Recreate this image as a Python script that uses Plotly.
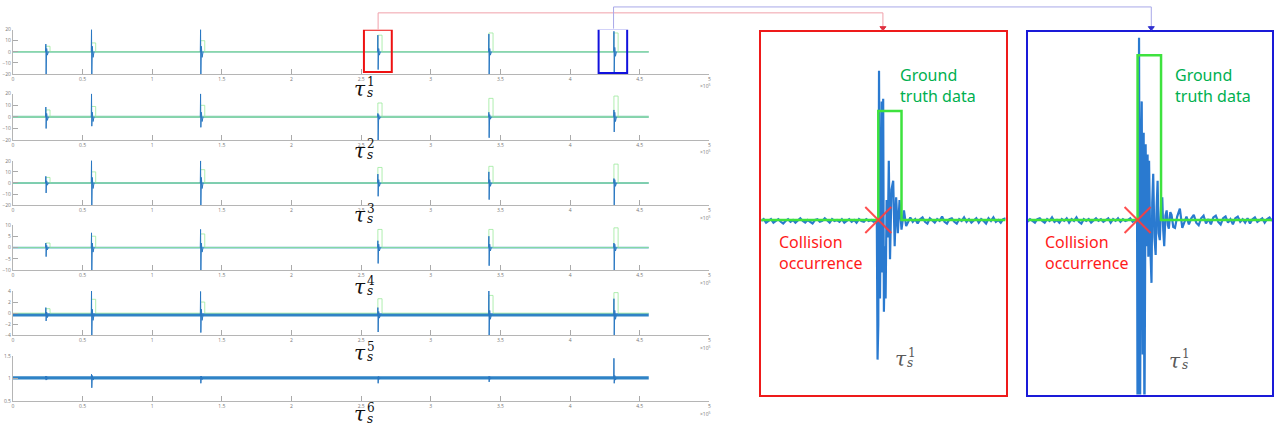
import plotly.graph_objects as go

W, H = 1276, 434

# ---------------- overview panels (x in units of 10^5 samples) ----------------
collision_t = [0.236, 0.564, 1.347, 2.620, 3.417, 4.315]
signal_end = 4.565
x_ticks = [0, 0.5, 1, 1.5, 2, 2.5, 3, 3.5, 4, 4.5, 5]
x_tick_text = ["0", "0.5", "1", "1.5", "2", "2.5", "3", "3.5", "4", "4.5", "5"]

y_ranges = [(-20, 20), (-20, 20), (-20, 20), (-10, 10), (-4, 4), (0.5, 1.5)]
y_ticks = [[-20, -10, 0, 10, 20], [-20, -10, 0, 10, 20], [-20, -10, 0, 10, 20],
           [-10, -5, 0, 5, 10], [-4, -2, 0, 2, 4], [0.5, 1, 1.5]]
baseline = [0, 0, 0, 0, -0.3, 1.02]

spike_peak = [
    [7, 21, 21, 15, 16, 18.5],
    [8.5, 20, 20, 3, 4, 6],
    [6, 21, 20, 8, 10, 4],
    [2, 6.5, 8, 3, 5, 2],
    [1, 4.2, 3.9, 1, 4.2, 2.6],
    [1.06, 1.1, 1.05, 1.04, 1.05, 1.45],
]
spike_trough = [
    [-21, -21, -21, -16, -21, -21],
    [-10, -8, -9, -21, -18, -13],
    [-9, -21, -21, -12, -15, -21],
    [-4, -11, -11, -7, -8, -11],
    [-1.4, -4.2, -3.5, -3.4, -4.2, -4.2],
    [0.97, 0.8, 0.9, 0.9, 0.93, 0.9],
]
spike_tail = [
    [3, 5, 5, 3, 3, 4],
    [3, 4, 4, 2, 2, 4],
    [2, 5, 5, 3, 3, 3],
    [1, 2, 2, 1.5, 1.5, 1.5],
    [0.5, 1, 1, 0.6, 0.8, 0.8],
    [0.03, 0.05, 0.04, 0.03, 0.03, 0.05],
]
gt_top = [
    [5, 8, 10, 15, 17, 17],
    [6, 9, 10, 12, 16, 18],
    [5, 10, 12, 14, 15, 17],
    [2, 5, 6, 8, 8, 8.7],
    [0.8, 2.5, 2, 2.6, 3.2, 3.7],
    None,
]
gt_width = 0.03

# red / blue highlighted windows on panel 1 (data units)
red_win = (2.52, 2.72, -18.2, 20.0)
blue_win = (4.205, 4.41, -19.1, 20.9)

# ---------------- zoomed views (x: samples 0..100, y: signal) ----------------
zoom_yrange = (-20, 21.6)

red_pre = [-0.1, 0.1, -0.3, -0.1, 0.1, -0.3, -0.1, 0.1, -0.2, -0.4, -0.1, 0.1, -0.2, 0.0, -0.3, -0.1,
           0.2, -0.1, -0.3, 0.0, -0.2, -0.4, 0.0, 0.1, -0.2, -0.1, 0.2, -0.1, -0.3, 0.1, -0.1, 0.0,
           -0.2, 0.1, -0.3, -0.1, 0.1, -0.2, 0.0, -0.3, 0.1, -0.1, -0.2, 0.1, -0.1, 0.0, -0.2]
red_spike_x = [47.3, 47.6, 47.9, 48.2, 48.6, 49.0, 49.3, 49.6, 49.9, 50.2, 50.6, 50.9, 51.3, 51.8, 52.2,
               52.7, 53.3, 54.0, 54.6, 55.2, 55.9, 56.6, 57.4, 58.4, 59.3]
red_spike_y = [0.0, -16.0, -12.0, 17.1, -9.0, 5.0, 13.6, -6.0, 13.9, -10.5, -3.0, -9.0, 2.3, -2.0, 6.8,
               -4.5, 3.5, 4.5, -3.0, 2.6, -1.5, 2.3, -1.1, 1.1, -0.7]
red_post = [0.3, -0.2, 0.1, -0.4, 0.1, 0.3, -0.2, -0.4, 0.2, 0.0, -0.3, 0.1, -0.1, 0.4, -0.2, -0.4,
            0.1, 0.2, -0.2, -0.4, 0.1, -0.1, 0.3, -0.2, 0.1, -0.3, 0.0, 0.2, -0.3, 0.1, -0.1, -0.4,
            0.2, -0.1, 0.3, -0.2, 0.0, -0.3, 0.1, 0.2]
red_gt = (47.9, 57.4, 12.5)

blue_pre = [-0.2, 0.1, -0.1, -0.3, 0.1, 0.2, -0.1, -0.3, 0.1, -0.1, 0.3, -0.2, 0.0, -0.3, 0.1, -0.1,
            0.2, -0.3, 0.1, -0.1, 0.3, -0.2, -0.4, 0.1, -0.1, 0.1, -0.3, 0.0, 0.2, -0.1, 0.1, -0.2,
            0.0, 0.2, -0.3, 0.1, -0.1, 0.2, -0.2, 0.1, -0.1, 0.0, 0.2, -0.2, 0.0]
blue_spike_x = [44.8, 45.0, 45.3, 45.6, 46.0, 46.4, 46.7, 47.1, 47.5, 47.8, 48.3, 48.7, 49.1, 49.4, 49.7,
                50.2, 50.7, 51.0, 51.4, 51.9, 52.4, 52.8, 53.2, 53.6, 54.1, 54.6, 55.1, 55.5, 55.9,
                56.4, 56.9, 57.4, 57.8, 58.4, 58.9, 59.6, 60.3, 61.2, 62.3, 63.3]
blue_spike_y = [0.0, -25, -10, 20.9, -25, 8.0, 13.6, -15.4, 10.0, -25, 8.7, -3.0, 7.5, -4.2, 6.8,
                -3.0, -7.2, 2.0, 5.3, -2.0, -4.0, 1.5, 4.5, -1.5, -2.3, 1.5, 2.6, -1.2, -3.0,
                0.5, 1.1, -0.6, -1.0, 0.9, 0.6, -0.8, -0.9, 0.4, 1.3, -0.9]
blue_post = [0.4, -0.5, 0.2, 0.6, -0.3, -0.6, 0.2, 0.5, -0.4, 0.1, -0.5, 0.3, 0.5, -0.2, -0.5, 0.2,
             0.4, -0.3, 0.1, -0.5, 0.2, 0.4, -0.2, 0.1, -0.3, 0.2, -0.4, 0.1, 0.3, -0.2, 0.0, 0.2,
             -0.3, 0.1, 0.3, -0.1]
blue_gt = (45.0, 54.6, 18.9)


# ---------------- layout helpers (screen pixel -> paper) ----------------
def px(x):
    return x / W


def py(y):
    return 1 - y / H


panel_top = [27, 92, 160, 225, 292, 358]
panel_bot = [72, 139, 205, 271, 337, 404]
LEFT_X0, LEFT_X1 = 12, 710

fig = go.Figure()
layout = dict(width=W, height=H, margin=dict(l=0, r=0, t=0, b=0), autosize=False,
              paper_bgcolor="white", plot_bgcolor="rgba(0,0,0,0)", showlegend=False)

band_color = ["#7cc6bf", "#7fc8bb", "#72bfc0", "#5fb1c9", "#2f83c6", "#2f83c6"]
band_width = [1.8, 2.2, 1.8, 1.8, 3.2, 3.2]

for i in range(6):
    sfx = "" if i == 0 else str(i + 1)
    xa, ya = "x" + sfx, "y" + sfx
    b = baseline[i]
    fig.add_trace(go.Scatter(x=[0, signal_end], y=[b, b], mode="lines", xaxis=xa, yaxis=ya,
                             line=dict(color=band_color[i], width=band_width[i]), hoverinfo="skip"))
    if gt_top[i] is not None:
        gx, gy = [0], [0]
        for t, h in zip(collision_t, gt_top[i]):
            gx += [t, t, t + gt_width, t + gt_width]
            gy += [0, h, h, 0]
        gx.append(signal_end)
        gy.append(0)
        fig.add_trace(go.Scatter(x=gx, y=gy, mode="lines", xaxis=xa, yaxis=ya,
                                 line=dict(color="rgba(150,232,150,0.75)", width=1), hoverinfo="skip"))
    sx, sy = [], []
    for t, pk, tr, tl in zip(collision_t, spike_peak[i], spike_trough[i], spike_tail[i]):
        sx += [t - 0.002, t, t + 0.002, t + 0.006, t + 0.011, t + 0.018, None]
        sy += [b, pk, tr, b + tl, b - tl, b, None]
    fig.add_trace(go.Scatter(x=sx, y=sy, mode="lines", xaxis=xa, yaxis=ya,
                             line=dict(color="#2a78c2", width=1), hoverinfo="skip"))

    layout["xaxis" + sfx] = dict(domain=[px(LEFT_X0), px(LEFT_X1)], anchor=ya, range=[0, 5],
                                 tickvals=x_ticks, ticktext=x_tick_text, ticks="inside", ticklen=5,
                                 tickcolor="#aaaaaa", showline=True, linecolor="#b5b5b5", linewidth=1,
                                 showgrid=False, zeroline=False, tickfont=dict(size=5, color="#777777"))
    layout["yaxis" + sfx] = dict(domain=[py(panel_bot[i]), py(panel_top[i])], anchor=xa,
                                 range=list(y_ranges[i]), tickvals=y_ticks[i], ticks="inside", ticklen=5,
                                 tickcolor="#aaaaaa", showline=True, linecolor="#b5b5b5", linewidth=1,
                                 showgrid=False, zeroline=False, tickfont=dict(size=5, color="#777777"))

annotations = []
shapes = []

for i in range(6):
    annotations.append(dict(text="×10<sup>5</sup>", x=px(706), y=py(panel_bot[i] + 12), xref="paper",
                            yref="paper", showarrow=False, font=dict(size=5, color="#777777"),
                            xanchor="center", yanchor="middle"))

for (x0, x1, y0, y1), col in [(red_win, "#ee1111"), (blue_win, "#1111dd")]:
    shapes.append(dict(type="rect", xref="x", yref="y", x0=x0, x1=x1, y0=y0, y1=y1,
                       line=dict(color=col, width=2)))


def path(points):
    s = "M {} {}".format(px(points[0][0]), py(points[0][1]))
    for a, b in points[1:]:
        s += " L {} {}".format(px(a), py(b))
    return s


shapes.append(dict(type="path", xref="paper", yref="paper",
                   path=path([(378, 27), (378, 10), (884, 10), (884, 25)]),
                   line=dict(color="#f0a0aa", width=1)))
shapes.append(dict(type="path", xref="paper", yref="paper",
                   path=path([(881, 24), (887, 24), (884, 28)]) + " Z",
                   line=dict(color="#e03040", width=1), fillcolor="#e03040"))
shapes.append(dict(type="path", xref="paper", yref="paper",
                   path=path([(614, 26), (614, 4), (1153, 4), (1153, 25)]),
                   line=dict(color="#a8a8e8", width=1)))
shapes.append(dict(type="path", xref="paper", yref="paper",
                   path=path([(1150, 24), (1156, 24), (1153, 28)]) + " Z",
                   line=dict(color="#3030d0", width=1), fillcolor="#3030d0"))

zoom_specs = [
    ("7", 762, 1007, "#ee1a1a", red_pre, red_spike_x, red_spike_y, red_post, red_gt, 56.0, 6.3),
    ("8", 1029, 1274, "#1a1ad8", blue_pre, blue_spike_x, blue_spike_y, blue_post, blue_gt, 59.6, 6.5),
]
for sfx, x0p, x1p, col, pre, spx, spy, post, gt, gt_lab_x, col_lab_x in zoom_specs:
    xa, ya = "x" + sfx, "y" + sfx
    pre_x = [1.0 * k for k in range(len(pre))]
    post_start = 100 - 1.0 * (len(post) - 1)
    post_x = [post_start + 1.0 * k for k in range(len(post))]
    fig.add_trace(go.Scatter(x=pre_x + spx + post_x, y=pre + spy + post, mode="lines", xaxis=xa, yaxis=ya,
                             line=dict(color="#2a7ad0", width=2.2), hoverinfo="skip"))
    on, off, h = gt
    fig.add_trace(go.Scatter(x=[0, on, on, off, off, 100], y=[0, 0, h, h, 0, 0], mode="lines",
                             xaxis=xa, yaxis=ya, line=dict(color="#3ee23e", width=2.5), hoverinfo="skip"))
    fig.add_trace(go.Scatter(x=[on], y=[0], mode="markers", xaxis=xa, yaxis=ya,
                             marker=dict(symbol="x-thin", size=26, line=dict(color="rgba(255,60,60,0.9)", width=2)),
                             hoverinfo="skip"))
    layout["xaxis" + sfx] = dict(domain=[px(x0p), px(x1p)], anchor=ya, range=[0, 100], showline=True,
                                 mirror=True, linecolor=col, linewidth=2, showticklabels=False, ticks="",
                                 showgrid=False, zeroline=False)
    layout["yaxis" + sfx] = dict(domain=[py(397), py(29)], anchor=xa, range=list(zoom_yrange), showline=True,
                                 mirror=True, linecolor=col, linewidth=2, showticklabels=False, ticks="",
                                 showgrid=False, zeroline=False)
    annotations.append(dict(text="Ground<br>truth data", x=gt_lab_x, y=18.1, xref=xa, yref=ya,
                            showarrow=False, xanchor="left", yanchor="top", align="left",
                            font=dict(family="Noto Sans", size=16, color="#00b050")))
    annotations.append(dict(text="Collision<br>occurrence", x=col_lab_x, y=-1.0, xref=xa, yref=ya,
                            showarrow=False, xanchor="left", yanchor="top", align="left",
                            font=dict(family="Noto Sans", size=16, color="#ff1a1a")))


def tau(cx, cy, k, color, size):
    f = "DejaVu Serif"
    annotations.append(dict(text="<i>τ</i>", x=px(cx), y=py(cy), xref="paper", yref="paper", showarrow=False,
                            xanchor="center", yanchor="middle", font=dict(family=f, size=size, color=color)))
    annotations.append(dict(text=str(k), x=px(cx + 0.26 * size), y=py(cy - 0.33 * size), xref="paper",
                            yref="paper", showarrow=False, xanchor="left", yanchor="middle",
                            font=dict(family=f, size=0.6 * size, color=color)))
    annotations.append(dict(text="<i>s</i>", x=px(cx + 0.22 * size), y=py(cy + 0.22 * size), xref="paper",
                            yref="paper", showarrow=False, xanchor="left", yanchor="middle",
                            font=dict(family=f, size=0.6 * size, color=color)))


tau_cy = [87, 150, 215, 288, 355, 417]
for i, cy in enumerate(tau_cy):
    tau(360, cy, i + 1, "#111111", 20)
tau(902, 361, 1, "#595959", 20)
tau(1177, 363, 1, "#595959", 20)

layout["annotations"] = annotations
layout["shapes"] = shapes
fig.update_layout(**layout)
fig.write_html("out.html", config={"displayModeBar": False, "staticPlot": True},
               post_script="document.body.style.margin='0px';document.body.style.overflow='hidden';")
